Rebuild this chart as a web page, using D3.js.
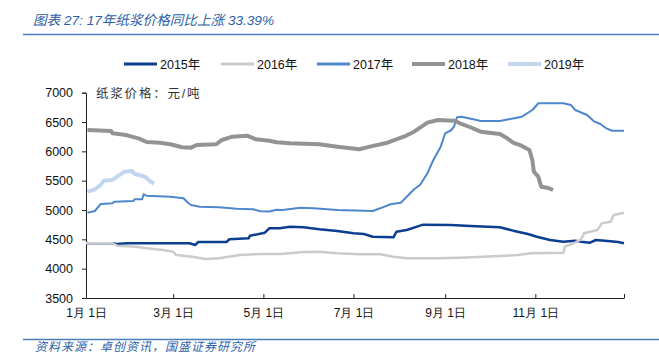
<!DOCTYPE html>
<html>
<head>
<meta charset="utf-8">
<script src="https://cdn.jsdelivr.net/npm/d3@7"></script>
<style>
  body { margin: 0; background: #fff; }
  svg { display: block; font-family: "Liberation Sans", "Noto Sans CJK SC", sans-serif; }
</style>
</head>
<body>
<script>
// Pulp price (元/吨); dates are month-day in a common year
const years = ["2015年", "2016年", "2017年", "2018年", "2019年"];

const dates2015 = ["01-01","01-19","01-22","01-29","03-12","03-16","03-18","04-06","04-08","04-21","04-22","05-02","05-05","05-12","05-19","05-28","06-08","06-20","07-01","07-08","07-14","07-28","07-30","08-06","08-13","08-17","09-05","09-18","10-08","10-17","10-27","11-02","11-11","11-20","11-28","12-02","12-08","12-12","12-20","12-27","12-31"];
const values2015 = [4433,4433,4421,4433,4433,4404,4455,4455,4501,4518,4562,4613,4688,4688,4716,4705,4671,4642,4603,4591,4545,4535,4630,4659,4716,4750,4745,4728,4705,4648,4591,4545,4489,4460,4477,4460,4443,4489,4472,4455,4433];

const dates2016 = ["01-01","01-19","01-22","02-04","02-11","02-22","03-01","03-03","03-14","03-23","04-01","04-15","04-29","05-12","05-19","05-28","06-08","06-20","07-05","07-19","07-28","08-06","08-26","09-11","09-27","10-20","10-29","11-20","11-21","11-27","12-02","12-04","12-13","12-16","12-22","12-24","12-31"];
const values2016 = [4433,4433,4392,4375,4347,4318,4289,4233,4204,4165,4177,4233,4250,4250,4262,4284,4289,4262,4245,4245,4204,4177,4177,4187,4204,4233,4262,4272,4375,4433,4501,4603,4659,4773,4801,4915,4954];

const dates2017 = ["01-02","01-07","01-11","01-19","01-20","02-02","02-03","02-08","02-09","02-11","02-27","03-08","03-11","03-13","03-19","04-01","04-13","04-24","04-29","05-05","05-10","05-14","05-26","06-04","06-20","07-14","07-19","07-26","08-02","08-06","08-11","08-15","08-20","08-24","08-29","09-01","09-05","09-07","09-09","09-12","09-20","09-25","10-08","10-14","10-23","10-30","11-03","11-20","11-25","11-28","12-06","12-11","12-15","12-19","12-23","12-31"];
const values2017 = [4954,4983,5103,5115,5142,5154,5183,5183,5268,5244,5227,5200,5125,5086,5057,5046,5023,5012,4978,4975,5006,5000,5040,5029,5000,4983,5029,5098,5125,5227,5353,5427,5626,5853,6080,6308,6360,6421,6581,6591,6547,6518,6518,6547,6591,6705,6820,6820,6791,6705,6620,6506,6467,6393,6352,6352];

const dates2018 = ["01-02","01-18","01-19","01-28","02-01","02-06","02-11","02-20","02-27","03-07","03-13","03-17","03-30","04-03","04-10","04-20","04-26","05-05","05-10","05-19","06-08","06-20","07-05","07-12","07-24","08-04","08-11","08-20","08-27","09-07","09-11","09-18","09-25","10-08","10-13","10-17","10-23","10-28","10-30","10-31","11-03","11-05","11-09","11-13"];
const values2018 = [6364,6347,6308,6279,6250,6216,6160,6148,6121,6069,6063,6109,6121,6194,6250,6267,6206,6182,6155,6138,6121,6080,6036,6080,6148,6250,6335,6489,6535,6523,6479,6411,6335,6296,6223,6148,6092,6023,5853,5653,5568,5398,5381,5341];

const dates2019 = ["01-02","01-07","01-11","01-13","01-19","01-22","01-27","02-01","02-03","02-06","02-10","02-13","02-16"];
const values2019 = [5312,5353,5427,5500,5512,5568,5653,5665,5614,5597,5568,5500,5444];

const yTicks = [3500, 4000, 4500, 5000, 5500, 6000, 6500, 7000];
const xTickMonths = [1, 3, 5, 7, 9, 11];

const allDates = [dates2015, dates2016, dates2017, dates2018, dates2019];
const allValues = [values2015, values2016, values2017, values2018, values2019];
const colors = ["#0b3d91", "#cbcbcb", "#4f87cc", "#939393", "#c3d6ef"];
const widths = [2.5, 2.5, 2, 4, 4];

const W = 659, H = 364;
const plotLeft = 86, plotRight = 624, plotTop = 92.7, plotBottom = 298;

const parse = d3.timeParse("%Y-%m-%d");
const svg = d3.select("body").append("svg").attr("width", W).attr("height", H);

// Title and rules
svg.append("text")
  .attr("x", 33).attr("y", 25)
  .attr("fill", "#2e5fa8")
  .style("font-style", "italic")
  .style("font-size", "13.6px")
  .text("图表 27:  17年纸浆价格同比上涨 33.39%");

svg.append("line").attr("x1", 23).attr("x2", W).attr("y1", 34.5).attr("y2", 34.5)
  .attr("stroke", "#4a7ebb").attr("stroke-width", 1.5);
svg.append("line").attr("x1", 23).attr("x2", W).attr("y1", 339.5).attr("y2", 339.5)
  .attr("stroke", "#4a7ebb").attr("stroke-width", 1.5);

svg.append("text")
  .attr("x", 35).attr("y", 351)
  .attr("fill", "#2e5fa8")
  .style("font-style", "italic")
  .style("font-size", "12px")
  .style("letter-spacing", "1px")
  .text("资料来源：卓创资讯，国盛证券研究所");

// Scales
const x = d3.scaleTime()
  .domain([parse("2017-01-01"), parse("2017-12-31")])
  .range([plotLeft, plotRight]);
const y = d3.scaleLinear().domain([3500, 7000]).range([plotBottom, plotTop]);

// Y axis
const yAxis = svg.append("g")
  .attr("transform", `translate(${plotLeft},0)`)
  .call(d3.axisLeft(y).tickValues(yTicks).tickSize(4).tickPadding(9).tickFormat(d3.format("d")));
yAxis.select(".domain").attr("stroke", "#222");
yAxis.selectAll(".tick line").attr("stroke", "#222");
yAxis.selectAll("text").style("font-size", "12.5px").attr("fill", "#111");

// X axis
const xTickDates = xTickMonths.map(m => new Date(2017, m - 1, 1)).concat([parse("2017-12-31")]);
const xAxis = svg.append("g")
  .attr("transform", `translate(0,${plotBottom})`)
  .call(d3.axisBottom(x).tickValues(xTickDates).tickSizeInner(-4).tickSizeOuter(0).tickPadding(10)
    .tickFormat((d, i) => i < xTickMonths.length ? `${xTickMonths[i]}月 1日` : ""));
xAxis.select(".domain").attr("stroke", "#222");
xAxis.selectAll(".tick line").attr("stroke", "#222");
xAxis.selectAll("text").style("font-size", "12px").attr("fill", "#111");

// Unit note
svg.append("text")
  .attr("x", 96).attr("y", 98)
  .attr("fill", "#333")
  .style("font-size", "12.5px")
  .style("letter-spacing", "1.8px")
  .text("纸浆价格：元/吨");

// Lines
const line = d3.line()
  .x(d => x(d[0]))
  .y(d => y(d[1]));

allDates.forEach(function(ds, k) {
  const pts = ds.map((d, i) => [parse("2017-" + d), allValues[k][i]]);
  svg.append("path")
    .datum(pts)
    .attr("fill", "none")
    .attr("stroke", colors[k])
    .attr("stroke-width", widths[k])
    .attr("stroke-linejoin", "round")
    .attr("d", line);
});

// Legend
const legendX = [124, 221, 317, 412, 508];
years.forEach(function(name, k) {
  const g = svg.append("g").attr("transform", `translate(${legendX[k]},64)`);
  g.append("line").attr("x1", 0).attr("x2", 33).attr("y1", 0).attr("y2", 0)
    .attr("stroke", colors[k]).attr("stroke-width", k >= 3 ? 4 : 3);
  g.append("text").attr("x", 36).attr("y", 4.5)
    .attr("fill", "#111")
    .style("font-size", "12.5px")
    .text(name);
});
</script>
</body>
</html>
